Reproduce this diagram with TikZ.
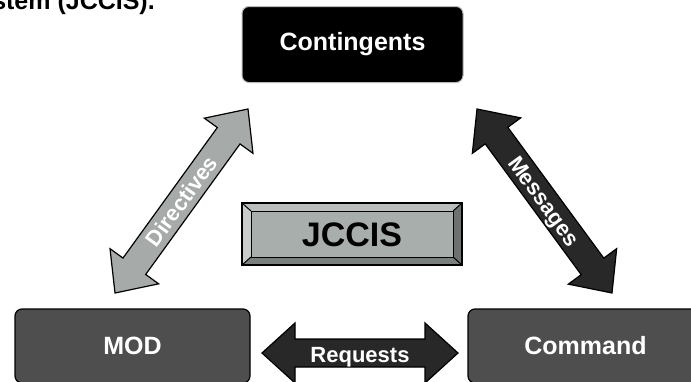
\documentclass[tikz,border=0pt]{standalone}
\usepackage{fontspec}
\setmainfont{Liberation Sans}
\usetikzlibrary{calc}

\definecolor{arrowlight}{RGB}{166,170,169}
\definecolor{arrowdark}{RGB}{40,40,40}
\definecolor{boxgray}{RGB}{78,78,78}
\definecolor{bevelface}{RGB}{168,174,172}
\definecolor{bevelleft}{RGB}{200,204,203}
\definecolor{beveltop}{RGB}{186,190,189}
\definecolor{bevelright}{RGB}{108,114,112}
\definecolor{bevelbottom}{RGB}{122,128,126}

% block arrow with a head at both ends, between two named tips
\def\headlen{33pt}
\def\headhalf{30pt}
\def\shafthalf{14pt}
\newcommand\twowayarrow[3]{%
  \filldraw[#3] (#1)
    -- ($(#1)!\headlen!(#2)!\headhalf!90:(#2)$)
    -- ($(#1)!\headlen!(#2)!\shafthalf!90:(#2)$)
    -- ($(#2)!\headlen!(#1)!\shafthalf!-90:(#1)$)
    -- ($(#2)!\headlen!(#1)!\headhalf!-90:(#1)$)
    -- (#2)
    -- ($(#2)!\headlen!(#1)!\headhalf!90:(#1)$)
    -- ($(#2)!\headlen!(#1)!\shafthalf!90:(#1)$)
    -- ($(#1)!\headlen!(#2)!\shafthalf!-90:(#2)$)
    -- ($(#1)!\headlen!(#2)!\headhalf!-90:(#2)$)
    -- cycle;}

\begin{document}
\begin{tikzpicture}[x=1pt,y=-1pt,
  box/.style={rounded corners=7pt, line width=1.2pt, draw=black, fill=boxgray,
    text=white, font=\fontsize{25}{25}\selectfont\bfseries,
    minimum width=235pt, minimum height=74pt, inner sep=0pt},
  flowarrow/.style={line width=1.2pt, draw=black, line join=miter},
  flowlabel/.style={text=white, font=\fontsize{22}{22}\selectfont\bfseries,
    inner sep=0pt, text height=15.8pt, text depth=0pt}]

\useasboundingbox (0,0) rectangle (691,381);
\clip (0,0) rectangle (691,381);

% heading line running above the chart
\node[anchor=base east, inner sep=0pt, font=\fontsize{25}{25}\selectfont\bfseries]
  (title) at (155,9.5) {System (JCCIS).};

% the three parties
\node[box, fill=black, draw=gray!55, line width=1pt,
  minimum width=221pt, minimum height=76pt] (cont) at (352.5,44.5) {Contingents};
\node[box] (mod) at (132.5,346) {MOD};
\node[box] (cmd) at (585.5,346) {Command};

% bevelled central plate
\coordinate (jo1) at (242,203);
\coordinate (jo2) at (462,265);
\coordinate (ji1) at (251,211);
\coordinate (ji2) at (453,257);
\fill[bevelleft]  (jo1) -- (ji1) -- (ji1 |- ji2) -- (jo1 |- jo2) -- cycle;
\fill[beveltop]   (jo1) -- (jo2 |- jo1) -- (ji2 |- ji1) -- (ji1) -- cycle;
\fill[bevelright] (jo2 |- jo1) -- (jo2) -- (ji2) -- (ji2 |- ji1) -- cycle;
\fill[bevelbottom](jo1 |- jo2) -- (ji1 |- ji2) -- (ji2) -- (jo2) -- cycle;
\draw[line width=1pt] (jo1) -- (ji1) (jo2 |- jo1) -- (ji2 |- ji1)
  (jo1 |- jo2) -- (ji1 |- ji2) (jo2) -- (ji2);
\node[draw=black, line width=1pt, fill=bevelface, inner sep=0pt,
  minimum width=202pt, minimum height=46pt,
  font=\fontsize{34}{34}\selectfont\bfseries, text height=24.3pt, text depth=0pt]
  (jccis) at (352,234) {JCCIS};
\draw[line width=1.2pt] (jo1) rectangle (jo2);

% arrow tips
\coordinate (dirA) at (115,293);
\coordinate (dirB) at (248,109);
\coordinate (msgA) at (477,109);
\coordinate (msgB) at (612,293);
\coordinate (reqA) at (262,353);
\coordinate (reqB) at (458,353);

\twowayarrow{dirA}{dirB}{flowarrow, fill=arrowlight}
\twowayarrow{msgA}{msgB}{flowarrow, fill=arrowdark}
\twowayarrow{reqA}{reqB}{flowarrow, fill=arrowdark}

\node[flowlabel, rotate=54]  (dirlabel) at ($(dirA)!0.5!(dirB)$) {Directives};
\node[flowlabel, rotate=-54] (msglabel) at ($(msgA)!0.5!(msgB)$) {Messages};
\node[flowlabel] (reqlabel) at ($(reqA)!0.5!(reqB)+(0,2)$) {Requests};

\end{tikzpicture}
\end{document}
